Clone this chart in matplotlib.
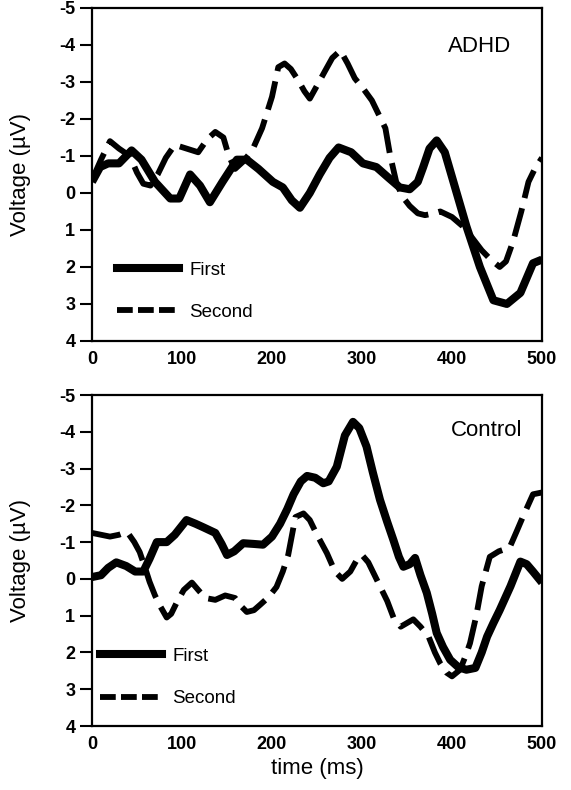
import matplotlib
matplotlib.use("Agg")
import matplotlib.pyplot as plt
from matplotlib.lines import Line2D

plt.rcParams['font.family'] = ['Liberation Sans', 'DejaVu Sans']
plt.rcParams['axes.unicode_minus'] = False

# ---------------- data ----------------
adhd_first_t = [0, 9, 18, 30, 44, 55, 70, 87, 97, 109, 120, 131, 145, 161, 172, 185, 201, 212,
                222, 231, 242, 253, 264, 274, 288, 301, 316, 330, 342, 353, 362, 368, 375, 383,
                392, 401, 416, 431, 446, 461, 476, 490, 500]
adhd_first_v = [-0.3, -0.7, -0.8, -0.8, -1.15, -0.9, -0.3, 0.15, 0.15, -0.5, -0.2, 0.25, -0.3,
                -0.9, -0.9, -0.65, -0.3, -0.15, 0.2, 0.4, 0.0, -0.5, -0.95, -1.23, -1.1, -0.8,
                -0.7, -0.4, -0.15, -0.1, -0.3, -0.7, -1.2, -1.42, -1.1, -0.35, 0.9, 2.0, 2.9,
                3.0, 2.7, 1.9, 1.8]

adhd_second_t = [0, 10, 20, 30, 42, 50, 57, 65, 73, 82, 92, 105, 118, 128, 137, 146, 152, 159,
                 168, 178, 189, 200, 207, 214, 221, 229, 236, 242, 250, 259, 267, 276, 284, 292,
                 302, 311, 320, 326, 331, 338, 345, 353, 362, 370, 380, 387, 400, 412, 422, 433,
                 443, 453, 460, 468, 477, 485, 492, 500]
adhd_second_v = [-0.35, -0.9, -1.4, -1.2, -1.0, -0.55, -0.25, -0.2, -0.5, -0.95, -1.3, -1.2,
                 -1.1, -1.45, -1.65, -1.5, -1.0, -0.65, -0.85, -1.15, -1.75, -2.6, -3.4, -3.5,
                 -3.35, -3.05, -2.75, -2.55, -2.9, -3.3, -3.65, -3.85, -3.5, -3.1, -2.8, -2.5,
                 -2.05, -1.75, -1.05, -0.3, 0.1, 0.35, 0.55, 0.6, 0.55, 0.5, 0.65, 0.9, 1.2,
                 1.55, 1.8, 2.0, 1.85, 1.3, 0.5, -0.3, -0.65, -0.95]

ctrl_first_t = [0, 10, 18, 27, 38, 48, 57, 64, 72, 83, 92, 105, 115, 124, 137, 144, 150, 158,
                168, 180, 190, 200, 209, 217, 224, 232, 239, 248, 257, 263, 272, 281, 290, 297,
                305, 312, 320, 328, 335, 341, 346, 353, 359, 365, 372, 378, 383, 390, 398, 407,
                416, 426, 433, 439, 446, 453, 465, 476, 483, 490, 500]
ctrl_first_v = [-0.05, -0.1, -0.3, -0.45, -0.35, -0.2, -0.2, -0.55, -1.0, -1.0, -1.2, -1.6,
                -1.5, -1.4, -1.25, -0.95, -0.65, -0.75, -0.97, -0.95, -0.93, -1.15, -1.5, -1.9,
                -2.3, -2.65, -2.8, -2.75, -2.6, -2.65, -3.05, -3.9, -4.27, -4.1, -3.6, -2.9,
                -2.15, -1.55, -1.05, -0.6, -0.33, -0.4, -0.57, -0.1, 0.38, 0.95, 1.47, 1.85,
                2.2, 2.4, 2.47, 2.42, 2.0, 1.57, 1.2, 0.85, 0.2, -0.47, -0.4, -0.2, 0.1]

ctrl_second_t = [0, 10, 20, 30, 39, 47, 53, 59, 64, 70, 76, 83, 88, 94, 102, 111, 118, 126,
                 137, 148, 159, 166, 172, 180, 187, 196, 205, 212, 218, 226, 235, 242, 250, 261,
                 270, 278, 287, 295, 300, 307, 320, 328, 335, 343, 350, 357, 365, 374, 381, 387,
                 394, 400, 409, 415, 420, 427, 433, 442, 452, 464, 472, 479, 490, 500]
ctrl_second_v = [-1.25, -1.2, -1.15, -1.2, -1.28, -1.0, -0.73, -0.3, 0.08, 0.45, 0.75, 1.05,
                 0.95, 0.65, 0.3, 0.1, 0.3, 0.52, 0.57, 0.45, 0.52, 0.75, 0.9, 0.85, 0.7, 0.5,
                 0.22, -0.2, -0.65, -1.68, -1.78, -1.6, -1.2, -0.7, -0.2, 0.0, -0.2, -0.55,
                 -0.65, -0.45, 0.2, 0.6, 1.05, 1.3, 1.2, 1.1, 1.3, 1.57, 2.0, 2.3, 2.55, 2.65,
                 2.47, 2.1, 1.75, 1.0, 0.2, -0.6, -0.75, -0.85, -1.3, -1.7, -2.3, -2.35]

panel_titles = ["ADHD", "Control"]
series_labels = ["First", "Second"]
x_ticks = [0, 100, 200, 300, 400, 500]
y_ticks = [-5, -4, -3, -2, -1, 0, 1, 2, 3, 4]

# ---------------- figure ----------------
fig = plt.figure(figsize=(5.71, 7.9), dpi=100)
ax1 = fig.add_axes([0.1611, 0.5684, 0.7881, 0.4215])
ax2 = fig.add_axes([0.1611, 0.0810, 0.7881, 0.4190])

panels = [
    (ax1, adhd_first_t, adhd_first_v, adhd_second_t, adhd_second_v, panel_titles[0],
     (0.862, 0.883), (0.056, 0.06)),
    (ax2, ctrl_first_t, ctrl_first_v, ctrl_second_t, ctrl_second_v, panel_titles[1],
     (0.878, 0.894), (0.018, 0.057)),
]

dash_curve = (5.0, 1.8)
for ax, ft, fv, st, sv, title, tpos, lpos in panels:
    ax.plot(ft, fv, color='black', lw=5.8, solid_joinstyle='round', solid_capstyle='butt')
    ax.plot(st, sv, color='black', lw=4.2, dashes=dash_curve, dash_capstyle='butt')
    ax.set_xlim(0, 500)
    ax.set_ylim(4, -5)
    ax.set_xticks(x_ticks)
    ax.set_yticks(y_ticks)
    ax.tick_params(axis='x', length=0, pad=7, labelsize=13)
    ax.tick_params(axis='y', length=9, width=1.5, direction='out', pad=3, labelsize=13)
    for lab in ax.get_xticklabels() + ax.get_yticklabels():
        lab.set_fontweight('bold')
    for sp in ax.spines.values():
        sp.set_linewidth(1.6)
    ax.set_ylabel("Voltage (µV)", fontsize=16, labelpad=20)
    ax.text(tpos[0], tpos[1], title, transform=ax.transAxes, ha='center', va='center',
            fontsize=16)
    handles = [Line2D([], [], color='black', lw=5.8),
               Line2D([], [], color='black', lw=4.2, dashes=(2.7, 0.9))]
    ax.legend(handles, series_labels, loc='lower left', bbox_to_anchor=lpos,
              frameon=False, fontsize=13.5, handlelength=3.3, handletextpad=0.55,
              labelspacing=1.35, borderpad=0, borderaxespad=0)

ax2.set_xlabel("time (ms)", fontsize=16, labelpad=4)

fig.savefig("out.png", dpi=100)
